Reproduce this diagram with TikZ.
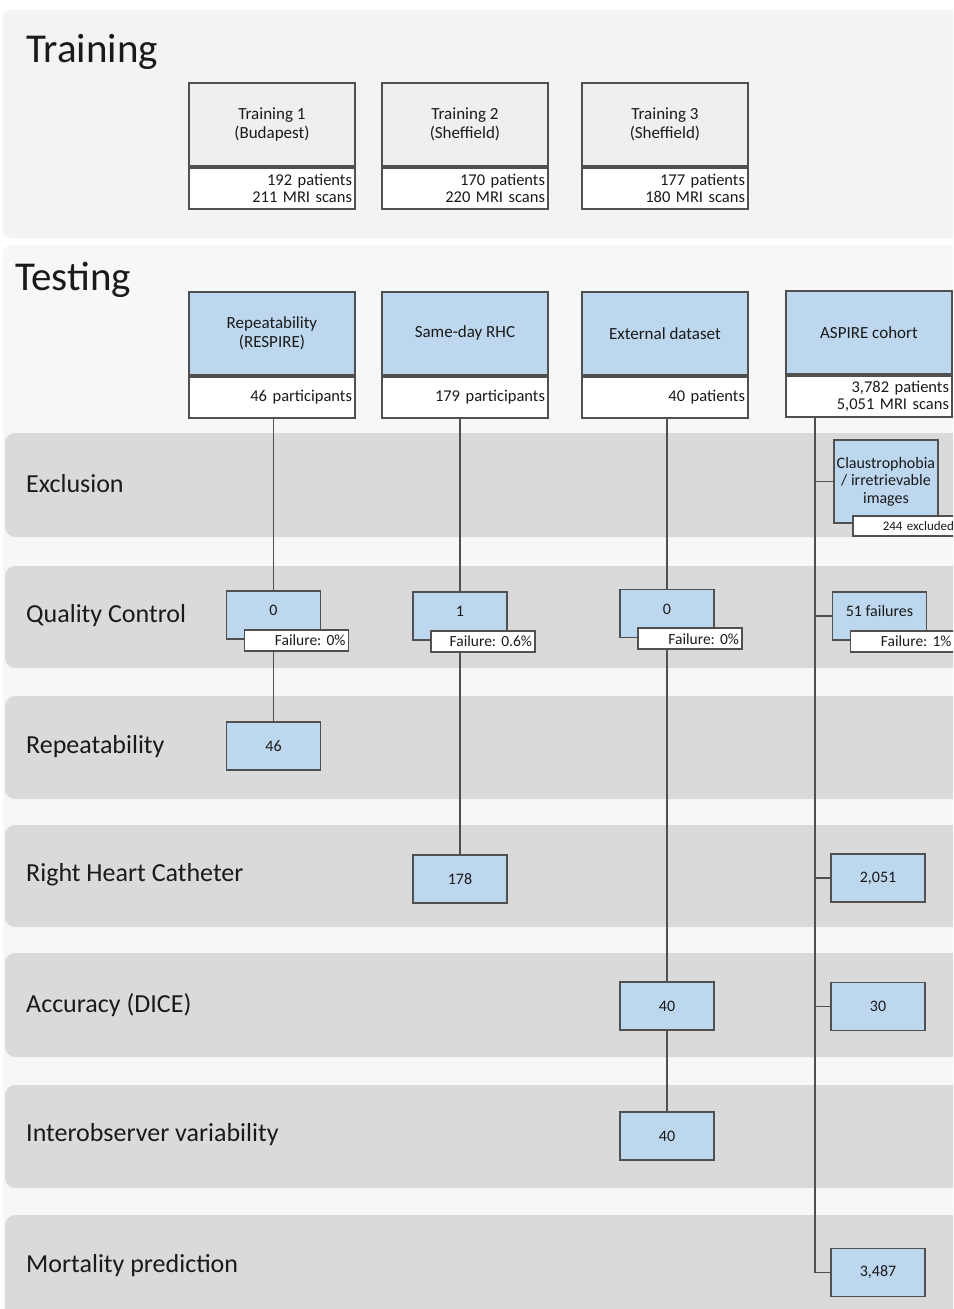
\documentclass[tikz,border=0pt]{standalone}
\usepackage{fontspec}
\setmainfont{Carlito}
\usepackage{tikz}
\usetikzlibrary{positioning}
\frenchspacing
\definecolor{dPanelA}{HTML}{F2F3F3}
\definecolor{dPanelB}{HTML}{F6F7F7}
\definecolor{dBand}{HTML}{DADADA}
\definecolor{dBlue}{HTML}{BDD7EE}
\definecolor{dHead}{HTML}{EFEFEF}
\definecolor{dLine}{HTML}{505050}
\definecolor{dText}{HTML}{1A1A1A}
\tikzset{
  panel/.style={rounded corners=8pt},
  band/.style={fill=dBand, rounded corners=10pt},
  title/.style={anchor=base west, inner sep=0pt, text=dText,
                font=\fontsize{41}{46}\selectfont},
  rowlbl/.style={anchor=west, inner sep=0pt, text=dText,
                 font=\fontsize{26}{30}\selectfont},
  headbox/.style={rectangle, draw=dLine, line width=1.9pt, anchor=north west,
                  minimum width=166pt, minimum height=83pt, align=center,
                  text=dText, font=\fontsize{17}{19.5}\selectfont},
  trhead/.style={headbox, fill=dHead},
  tshead/.style={headbox, fill=dBlue},
  countbox/.style={rectangle, draw=dLine, line width=1.9pt, fill=white,
                   minimum height=41pt, text width=160pt, inner xsep=3pt,
                   inner ysep=0pt, align=right, text=dText,
                   font=\fontsize{16.5}{17}\selectfont},
  res/.style={rectangle, draw=dLine, line width=1.9pt, fill=dBlue,
              minimum width=94pt, minimum height=48pt, text=dText,
              font=\fontsize{16}{18}\selectfont},
  qcbox/.style={res, text height=11pt, text depth=10pt},
  exbox/.style={res, anchor=north west, minimum width=104pt,
                minimum height=83pt, inner sep=2pt, align=center,
                font=\fontsize{16}{17.5}\selectfont},
  flag/.style={rectangle, draw=dLine, line width=1.9pt, fill=white,
               anchor=north west, minimum height=21pt, text width=98pt,
               inner xsep=3pt, inner ysep=0pt, align=right, text=dText,
               font=\fontsize{15.5}{17}\selectfont},
  smallflag/.style={flag, minimum height=20pt, font=\fontsize{13}{15}\selectfont},
  conn/.style={draw=dLine, line width=1.9pt},
}
\newcommand{\StudyBox}[5][trhead]{%
  \node[#1] (#2h) at (#3) {#4};
  \node[countbox, below=0pt of #2h] (#2c) {#5};}
\newcommand{\QCBox}[4]{%
  \node[qcbox] (#1) at (#2) {#3};
  \node[flag] (#1f) at ([xshift=18pt,yshift=11pt]#1.south west) {#4};}

\begin{document}
\begin{tikzpicture}[x=1pt, y=-1pt]
  \clip (0,0) rectangle (953,1309);
  % panels
  \fill[panel, fill=dPanelA] (3,10) rectangle (980,238);
  \fill[panel, fill=dPanelB] (3,245) rectangle (980,1340);
  \node[title] (trtitle) at (26,62) {Training};
  \node[title] (tstitle) at (15,290) {Testing};

  % row bands
  \foreach \ya/\yb/\ly/\txt [count=\i] in {
      433/537/484/Exclusion,
      566/668/616/Quality Control,
      696/799/747/Repeatability,
      825/927/875/Right Heart Catheter,
      953/1057/1005/Accuracy (DICE),
      1085/1188/1135/Interobserver variability,
      1215/1340/1266/Mortality prediction} {
    \fill[band] (5,\ya) rectangle (980,\yb);
    \node[rowlbl] (row\i) at (26,\ly) {\txt};
  }

  % training cohorts
  \StudyBox{tr1}{188,82}{Training 1\\(Budapest)}{192 patients\\211 MRI scans}
  \StudyBox{tr2}{381,82}{Training 2\\(Sheffield)}{170 patients\\220 MRI scans}
  \StudyBox{tr3}{581,82}{Training 3\\(Sheffield)}{177 patients\\180 MRI scans}

  % testing cohorts
  \StudyBox[tshead]{ts1}{188,291}{Repeatability\\(RESPIRE)}{46 participants}
  \StudyBox[tshead]{ts2}{381,291}{Same-day RHC}{179 participants}
  \StudyBox[tshead]{ts3}{581,291}{External dataset}{40 patients}
  \StudyBox[tshead]{ts4}{785,290}{ASPIRE cohort}{3,782 patients\\5,051 MRI scans}

  % quality control
  \QCBox{q1}{273.5,615}{0}{Failure: 0\%}
  \QCBox{q2}{460,616}{1}{Failure: 0.6\%}
  \QCBox{q3}{667,613.5}{0}{Failure: 0\%}
  \QCBox{q4}{879.5,616}{51 failures}{Failure: 1\%}

  % exclusion (ASPIRE only)
  \node[exbox] (ex4) at (833,439) {Claustrophobia\\/ irretrievable\\images};
  \node[smallflag] (ex4f) at ([xshift=19pt,yshift=9pt]ex4.south west) {244 excluded};

  % outcomes
  \node[res] (rp1) at (273.5,746) {46};
  \node[res] (rh2) at (460,879) {178};
  \node[res] (ac3) at (667,1006) {40};
  \node[res] (io3) at (667,1136) {40};
  \node[res] (rh4) at (878,878) {2,051};
  \node[res] (ac4) at (878,1006.5) {30};
  \node[res] (mp4) at (878,1272.5) {3,487};

  % connectors
  \draw[conn] (ts1c.south -| q1) -- (q1.north);
  \draw[conn] (q1f.south -| q1) -- (rp1.north);
  \draw[conn] (ts2c.south -| q2) -- (q2.north);
  \draw[conn] (q2f.south -| rh2) -- (rh2.north);
  \draw[conn] (ts3c.south -| q3) -- (q3.north);
  \draw[conn] (q3f.south -| ac3) -- (ac3.north);
  \draw[conn] (ac3.south) -- (io3.north);
  \coordinate (trunk) at ([xshift=30pt]ts4c.south west);
  \draw[conn] (trunk) |- (mp4.west);
  \draw[conn] (ex4.west -| trunk) -- (ex4.west);
  \draw[conn] (q4.west -| trunk) -- (q4.west);
  \draw[conn] (rh4.west -| trunk) -- (rh4.west);
  \draw[conn] (ac4.west -| trunk) -- (ac4.west);
\end{tikzpicture}
\end{document}
